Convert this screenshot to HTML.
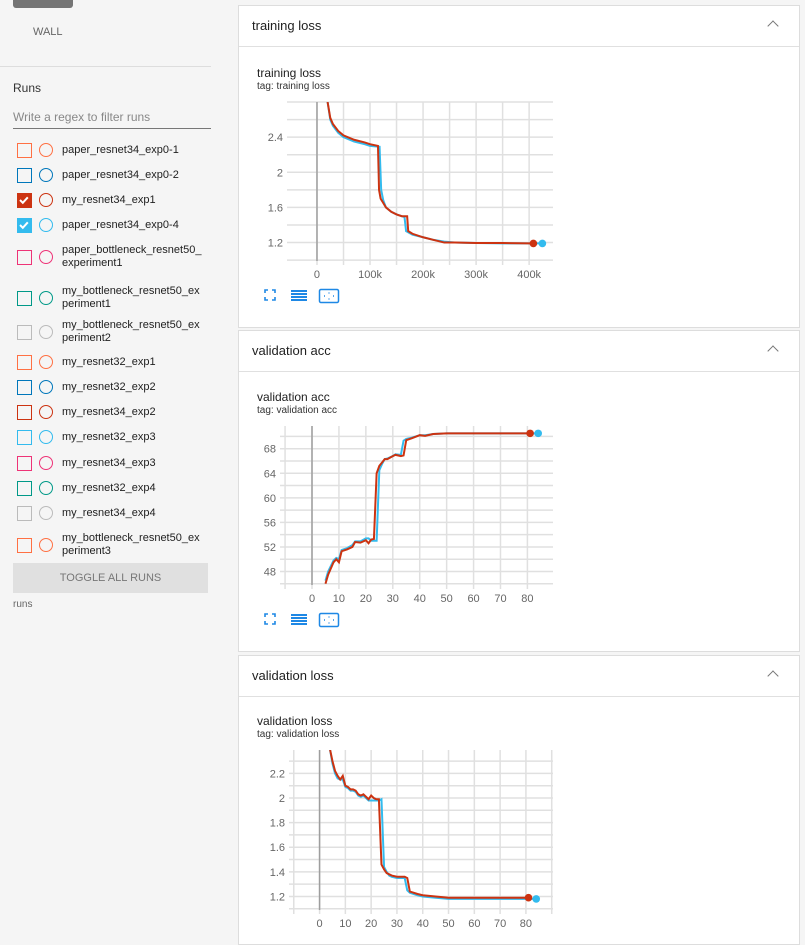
<!DOCTYPE html>
<html><head><meta charset="utf-8">
<style>
body{margin:0;width:805px;height:937px;overflow:hidden;background:#f5f5f5;font-family:"Liberation Sans",sans-serif;color:#212121;position:relative}
.abs{position:absolute}
.run{position:absolute;left:17px;font-size:11px;color:#212121;line-height:13px}
.cb{position:absolute;left:0;width:15px;height:15px;box-sizing:border-box}
.ci{position:absolute;left:22px;width:14px;height:14px;border-radius:50%;box-sizing:border-box}
.lbl{position:absolute;left:45px;top:1px;white-space:nowrap}
.card{position:absolute;left:238px;width:562px;background:#fff;border:1px solid #ddd;box-sizing:border-box}
.hdr{position:absolute;left:0;right:0;top:0;height:40px;border-bottom:1px solid #e0e0e0}
.hdr span{position:absolute;left:13px;top:12px;font-size:13px}
.chev{position:absolute;right:22px;top:16px;width:7px;height:7px;border-left:1.6px solid #777;border-top:1.6px solid #777;transform:rotate(45deg)}
.ct{position:absolute;font-size:12px;color:#212121}
.tag{position:absolute;font-size:10px;color:#333}
</style></head><body>
<div class="abs" style="left:0;top:0;width:238px;height:937px;background:#f5f5f5"></div>
<div class="abs" style="left:13px;top:-4px;width:60px;height:12px;background:#757575;border-radius:3px"></div>
<div class="abs" style="left:33px;top:26px;font-size:11px;color:#666">WALL</div>
<div class="abs" style="left:0;top:66px;width:211px;height:1px;background:#ddd"></div>
<div class="abs" style="left:13px;top:81px;font-size:12px;color:#333">Runs</div>
<div class="abs" style="left:13px;top:110px;width:198px;height:18px;border-bottom:1px solid #777;font-size:12px;color:#888">Write a regex to filter runs</div>
<div id="runs"></div>
<div class="abs" style="left:13px;top:563px;width:195px;height:30px;background:#e0e0e0;font-size:11px;color:#777;text-align:center;line-height:30px">TOGGLE ALL RUNS</div>
<div class="abs" style="left:13px;top:599px;font-size:10px;color:#666">runs</div>

<div class="card" style="top:5px;height:323px"><div class="hdr"><span>training loss</span><div class="chev"></div></div></div>
<div class="card" style="top:330px;height:322px"><div class="hdr"><span>validation acc</span><div class="chev"></div></div></div>
<div class="card" style="top:655px;height:290px"><div class="hdr"><span>validation loss</span><div class="chev"></div></div></div>

<div class="ct" style="left:257px;top:66px">training loss</div><div class="tag" style="left:257px;top:81px">tag: training loss</div>
<div class="ct" style="left:257px;top:390px">validation acc</div><div class="tag" style="left:257px;top:405px">tag: validation acc</div>
<div class="ct" style="left:257px;top:714px">validation loss</div><div class="tag" style="left:257px;top:729px">tag: validation loss</div>

<svg id="svg" class="abs" style="left:0;top:0" width="805" height="937"></svg>

<script>
const runNames=["paper_resnet34_exp0-1","paper_resnet34_exp0-2","my_resnet34_exp1","paper_resnet34_exp0-4","paper_bottleneck_resnet50_\nexperiment1","my_bottleneck_resnet50_ex\nperiment1","my_bottleneck_resnet50_ex\nperiment2","my_resnet32_exp1","my_resnet32_exp2","my_resnet34_exp2","my_resnet32_exp3","my_resnet34_exp3","my_resnet32_exp4","my_resnet34_exp4","my_bottleneck_resnet50_ex\nperiment3"];
const runColors=["#ff7043","#0077bb","#cc3311","#33bbee","#ee3377","#009988","#bbbbbb","#ff7043","#0077bb","#cc3311","#33bbee","#ee3377","#009988","#bbbbbb","#ff7043"];
const runChecked=[0,0,1,1,0,0,0,0,0,0,0,0,0,0,0];
const runTops=[143,168,193,218,243,284,318,355,380,405,430,456,481,506,531];
const rc=document.getElementById('runs');
runNames.forEach((n,i)=>{
  const d=document.createElement('div');d.className='run';d.style.top=runTops[i]+'px';
  
  
  const two=n.includes('\n');
  const off=two?7:0;
  const c=runColors[i];
  d.innerHTML=`<div class="cb" style="top:${off}px;border:1.5px solid ${c};${runChecked[i]?'background:'+c:''}">${runChecked[i]?'<svg width="12" height="12" style="position:absolute;left:0;top:0"><path d="M2 6l2.8 2.8 5-5.5" stroke="#fff" stroke-width="2" fill="none"/></svg>':''}</div><div class="ci" style="top:${off}px;border:1.5px solid ${c}"></div><div class="lbl">${n.replace('\n','<br>')}</div>`;
  rc.appendChild(d);
});

const tlRedX=[20,25,30,40,50,70,90,100,115,117,120,130,140,150,160,170,172,180,200,220,240,260,300,350,400,408];
const tlRedY=[2.8,2.62,2.55,2.47,2.42,2.37,2.34,2.32,2.3,1.8,1.7,1.6,1.55,1.52,1.5,1.5,1.33,1.3,1.26,1.23,1.2,1.2,1.195,1.195,1.19,1.19];
const tlBlueX=[20,25,30,40,50,70,90,100,118,121,125,130,140,150,160,165,168,180,200,220,240,260,300,350,400,425];
const tlBlueY=[2.8,2.6,2.53,2.45,2.4,2.35,2.32,2.3,2.29,1.8,1.68,1.6,1.55,1.52,1.5,1.49,1.33,1.29,1.26,1.23,1.21,1.2,1.195,1.19,1.19,1.19];
const vaRedX=[5,6,8,9,10,11,13,15,16,18,20,21,22,23,24,25,27,28,30,31,33,34,35,37,40,42,45,50,60,70,81];
const vaRedY=[46,47.5,49.5,50,49.5,51.3,51.6,52,52.8,52.7,53.1,52.6,53.2,53.3,64,65.2,66.3,66.3,66.8,67,66.8,66.9,69.4,69.7,70.2,70.1,70.4,70.5,70.5,70.5,70.5];
const vaBlueX=[5,6,8,9,10,11,13,15,16,18,20,21,22,24,25,26,27,28,30,31,33,34,35,37,40,42,45,50,60,70,84];
const vaBlueY=[46.5,48,49.8,50.2,50,51.5,51.8,52.3,52.9,52.9,53.4,53.4,53,53,64.5,65.5,66.3,66.4,66.8,67.1,67,69.3,69.6,69.8,70.2,70.2,70.4,70.5,70.5,70.5,70.5];
const vlRedX=[4,5,6,7,8,9,10,11,12,13,14,15,16,17,18,19,20,21,22,23,24,25,26,27,28,30,33,34,35,38,40,45,50,60,70,81];
const vlRedY=[2.4,2.3,2.22,2.18,2.15,2.18,2.1,2.09,2.07,2.07,2.06,2.03,2.02,2.03,2.01,1.99,2.02,2.0,1.99,1.99,1.46,1.42,1.39,1.38,1.37,1.36,1.36,1.35,1.24,1.22,1.21,1.2,1.19,1.19,1.19,1.19];
const vlBlueX=[4,5,6,7,8,9,10,11,12,13,14,15,16,17,18,19,20,21,22,23,24,25,26,27,28,30,33,34,35,38,40,45,50,60,70,84];
const vlBlueY=[2.4,2.28,2.2,2.16,2.15,2.15,2.09,2.08,2.06,2.06,2.05,2.02,2.01,2.02,2.0,1.98,1.98,1.98,1.98,1.98,1.99,1.44,1.4,1.37,1.36,1.35,1.35,1.25,1.23,1.21,1.2,1.19,1.18,1.18,1.18,1.18];
const tlXTicks=[0,100,200,300,400];const tlXLabels=["0","100k","200k","300k","400k"];
const tlYTicks=[1.2,1.6,2,2.4];const tlYLabels=["1.2","1.6","2","2.4"];
const vaXTicks=[0,10,20,30,40,50,60,70,80];
const vaYTicks=[48,52,56,60,64,68];
const vlXTicks=[0,10,20,30,40,50,60,70,80];
const vlYTicks=[1.2,1.4,1.6,1.8,2,2.2];

const NS='http://www.w3.org/2000/svg';const svg=document.getElementById('svg');
function el(t,a,p){const e=document.createElementNS(NS,t);for(const k in a)e.setAttribute(k,a[k]);(p||svg).appendChild(e);return e;}
function chart(o){
  const g=el('g',{});
  
  
  const sx=v=>o.L+(v-o.x0)/(o.x1-o.x0)*(o.R-o.L);
  const sy=v=>o.B-(v-o.y0)/(o.y1-o.y0)*(o.B-o.T);
  for(let v=Math.ceil(o.x0/o.gx)*o.gx;v<=o.x1;v+=o.gx){el('line',{x1:sx(v),x2:sx(v),y1:o.T,y2:o.B+4,stroke:'#e0e0e0','stroke-width':1.5},g);}
  for(let v=Math.ceil(o.y0/o.gy-1e-6)*o.gy;v<=o.y1+1e-9;v+=o.gy){el('line',{x1:o.L-4,x2:o.R,y1:sy(v),y2:sy(v),stroke:'#e0e0e0','stroke-width':1.5},g);}
  el('line',{x1:sx(0),x2:sx(0),y1:o.T,y2:o.B,stroke:'#9e9e9e','stroke-width':1.5},g);
  o.xt.forEach((v,i)=>{const t=el('text',{x:sx(v),y:o.B+17,'text-anchor':'middle','font-size':11,fill:'#666'},g);t.textContent=o.xl?o.xl[i]:v;});
  o.yt.forEach((v,i)=>{const t=el('text',{x:o.L-8,y:sy(v)+4,'text-anchor':'end','font-size':11,fill:'#666'},g);t.textContent=o.yl?o.yl[i]:v;});
  const cp=el('clipPath',{id:'c'+o.name},g);el('rect',{x:o.L,y:o.T,width:o.R-o.L+20,height:o.B-o.T},cp);
  o.series.forEach(s=>{
    const p=el('polyline',{points:s.x.map((v,i)=>sx(v)+','+sy(s.y[i])).join(' '),fill:'none',stroke:s.c,'stroke-width':2,'clip-path':`url(#c${o.name})`},g);
    
    
    const n=s.x.length-1;
    el('circle',{cx:sx(s.x[n]),cy:sy(s.y[n]),r:3.8,fill:s.c},g);
  });
  const iy=o.B+28;
  const ic=el('g',{},g);
  
  
  el('path',{d:`M265 ${iy+4}v-3h3M272 ${iy+1}h3v3M275 ${iy+8}v3h-3M268 ${iy+11}h-3v-3`,stroke:'#1e88e5','stroke-width':1.6,fill:'none'},ic);
  for(let k=0;k<4;k++)el('rect',{x:291,y:iy+1+k*3,width:16,height:2,fill:'#1e88e5'},ic);
  el('rect',{x:319.5,y:iy+0.5,width:19,height:13,rx:1.5,fill:'none',stroke:'#1e88e5','stroke-width':1.5},ic);
  el('path',{d:`M324 ${iy+7}h1M333 ${iy+7}h1M329 ${iy+3.5}v1M329 ${iy+9.5}v1`,stroke:'#1e88e5','stroke-width':1.4},ic);
}
chart({name:'training-loss-chart',L:291,R:553,T:102,B:261,x0:-49,x1:445,y0:0.99,y1:2.8,gx:50,gy:0.2,xt:tlXTicks,xl:tlXLabels,yt:tlYTicks,yl:tlYLabels,
  series:[{n:'paper-resnet34-exp0-4-line',x:tlBlueX,y:tlBlueY,c:'#33bbee'},{n:'my-resnet34-exp1-line',x:tlRedX,y:tlRedY,c:'#cc3311'}]});
chart({name:'validation-acc-chart',L:284,R:553,T:426,B:585,x0:-10.4,x1:89.5,y0:45.8,y1:71.7,gx:10,gy:2,xt:vaXTicks,yt:vaYTicks,
  series:[{n:'paper-resnet34-exp0-4-line',x:vaBlueX,y:vaBlueY,c:'#33bbee'},{n:'my-resnet34-exp1-line',x:vaRedX,y:vaRedY,c:'#cc3311'}]});
chart({name:'validation-loss-chart',L:293,R:553,T:750,B:910,x0:-10.3,x1:90.5,y0:1.09,y1:2.39,gx:10,gy:0.1,xt:vlXTicks,yt:vlYTicks,
  series:[{n:'paper-resnet34-exp0-4-line',x:vlBlueX,y:vlBlueY,c:'#33bbee'},{n:'my-resnet34-exp1-line',x:vlRedX,y:vlRedY,c:'#cc3311'}]});
</script>
</body></html>
